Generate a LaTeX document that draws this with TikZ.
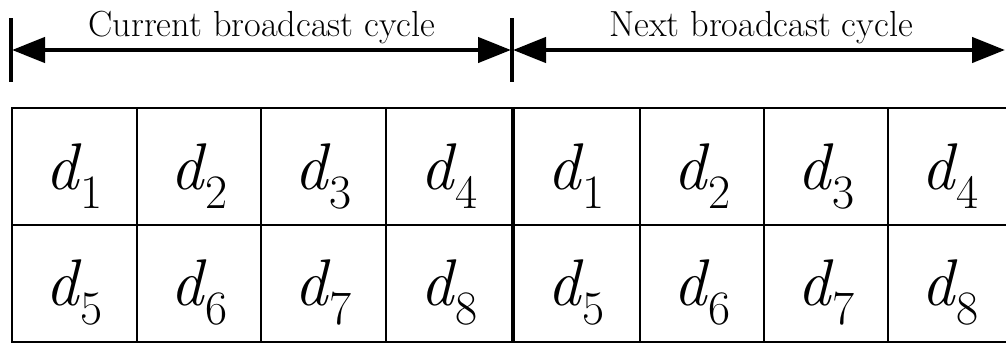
\documentclass[tikz,border=0pt]{standalone}
\usepackage{fontspec}
\usetikzlibrary{arrows.meta}
\newcommand{\dsub}[1]{{\fontsize{66}{66}\selectfont\itshape d}\kern2pt\raisebox{-19pt}{\fontsize{48}{48}\selectfont #1}}
\begin{document}
\begin{tikzpicture}[x=1pt,y=-1pt,
  bar/.style={line width=4pt},
  span/.style={line width=4.5pt,{Triangle[length=33pt,width=25pt]}-{Triangle[length=33pt,width=25pt]}, shorten <=1pt, shorten >=1pt},
  caption/.style={font=\fontsize{36.3}{36.3}\selectfont, anchor=base, inner sep=0pt},
  grid/.style={line width=2pt},
  divider/.style={line width=3.8pt},
  cell/.style={anchor=base, inner sep=0pt}]
\useasboundingbox (0,0) rectangle (1006,343);
% bars
\coordinate (b1) at (11,50);
\coordinate (b2) at (512,50);
\coordinate (b3) at (1006,50);
\draw[bar] (11,18) -- (11,82);
\draw[bar] (512,18) -- (512,82);
\draw[span] (b1) -- (b2);
\draw[span] (b2) -- (b3);
\node[caption] (t1) at (262,36) {Current broadcast cycle};
\node[caption] (t2) at (761,36) {Next broadcast cycle};
% table
\draw[grid] (1012,108) -- (12,108) -- (12,342) -- (1012,342);
\draw[grid] (12,225) -- (1012,225);
\foreach \x in {137,261,386,640,764,888} \draw[grid] (\x,108) -- (\x,342);
\draw[divider] (513,108) -- (513,342);
% cells
\foreach \x/\a/\b [count=\i] in {74.5/1/5,199/2/6,323.5/3/7,449.5/4/8,576.5/1/5,702/2/6,826/3/7,950/4/8} {
  \node[cell] (u\i) at (\x,189) {\dsub{\a}};
  \node[cell] (l\i) at (\x,305) {\dsub{\b}};
}
\end{tikzpicture}
\end{document}
